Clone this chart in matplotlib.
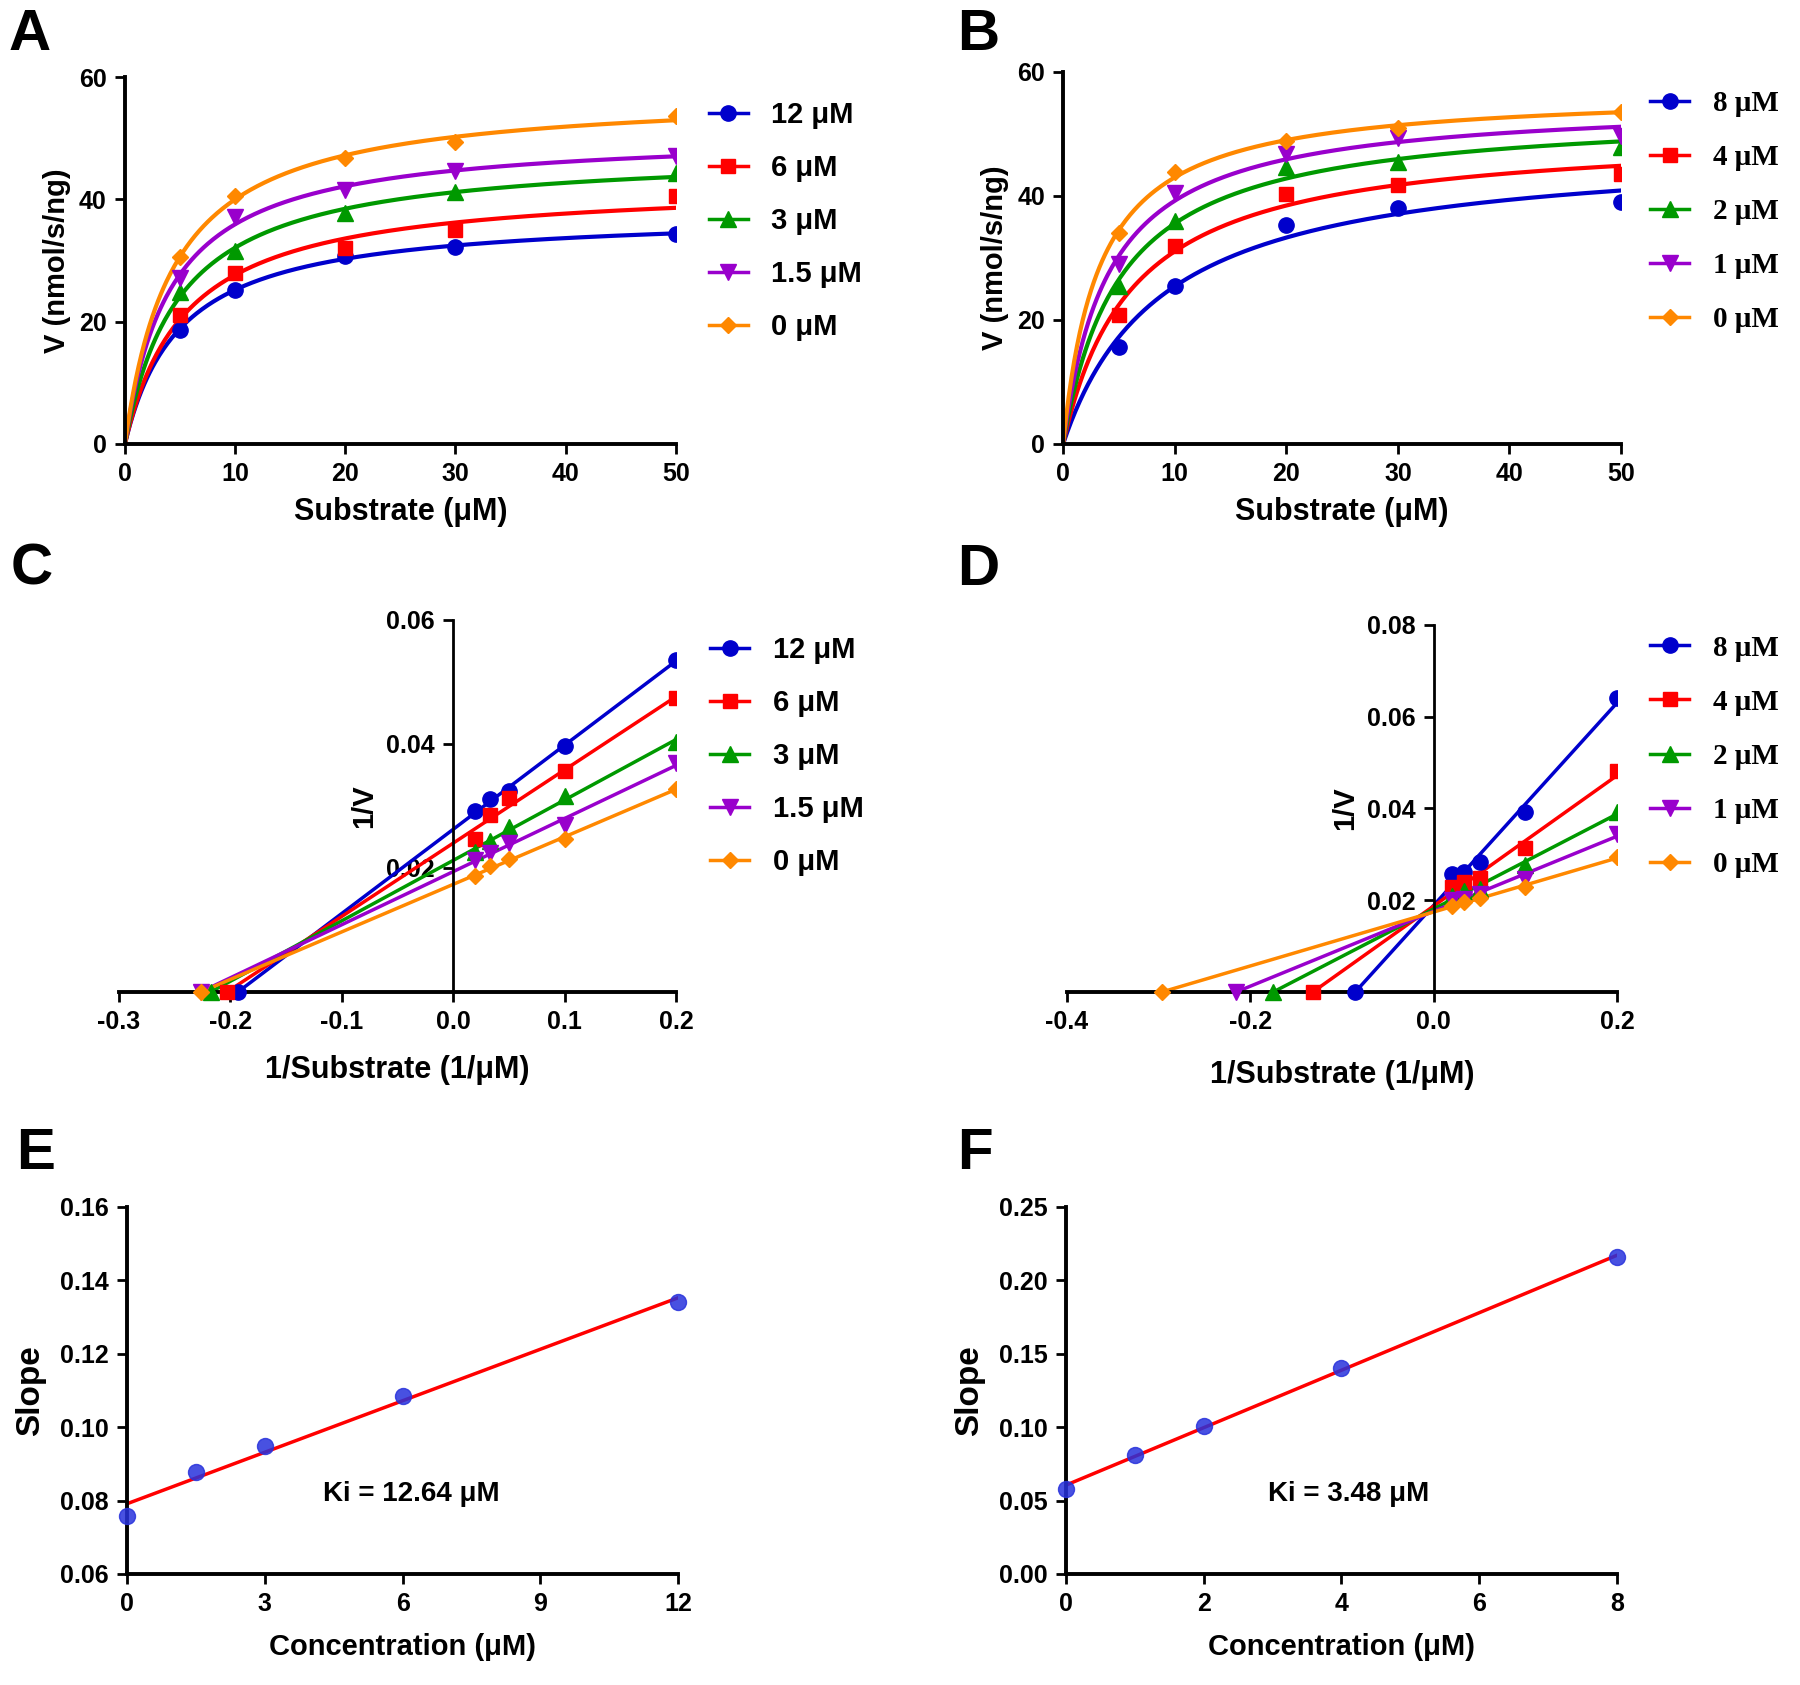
import numpy as np
import matplotlib
matplotlib.use("Agg")
import matplotlib.pyplot as plt
from matplotlib.lines import Line2D
from matplotlib.ticker import FormatStrFormatter

plt.rcParams['font.family'] = ['Liberation Sans', 'DejaVu Sans']
plt.rcParams['font.weight'] = 'bold'
plt.rcParams['axes.unicode_minus'] = False

# substrate concentrations (uM)
substrate = [5, 10, 20, 30, 50]

# panel A: velocities for each inhibitor level
labels_a = ['12 μM', '6 μM', '3 μM', '1.5 μM', '0 μM']
v_a_12 = [18.7, 25.2, 30.8, 32.2, 34.3]
v_a_6 = [21.1, 28.0, 32.0, 35.0, 40.5]
v_a_3 = [24.8, 31.6, 37.7, 41.2, 44.3]
v_a_15 = [27.1, 37.1, 41.5, 44.7, 47.1]
v_a_0 = [30.5, 40.6, 46.8, 49.4, 53.7]

# panel B
labels_b = ['8 μM', '4 μM', '2 μM', '1 μM', '0 μM']
v_b_8 = [15.6, 25.5, 35.3, 38.1, 39.0]
v_b_4 = [20.8, 31.9, 40.3, 41.8, 43.5]
v_b_2 = [25.5, 36.0, 44.7, 45.4, 47.9]
v_b_1 = [29.0, 40.5, 46.7, 49.3, 49.7]
v_b_0 = [34.0, 43.9, 48.9, 51.0, 53.6]

# panels E/F: slopes of the double reciprocal lines
conc_e = [0, 1.5, 3, 6, 12]
slope_e = [0.0759, 0.0877, 0.0948, 0.1085, 0.1340]
conc_f = [0, 1, 2, 4, 8]
slope_f = [0.0582, 0.0810, 0.1007, 0.1402, 0.2160]

colors = ['#0000CC', '#FF0000', '#009900', '#9900CC', '#FF8800']
markers = ['o', 's', '^', 'v', 'D']
msizes = [11, 10, 11, 11, 8]


def mm_fit(s, v):
    # least squares Michaelis-Menten fit, scanning Km
    s = np.asarray(s, float)
    v = np.asarray(v, float)
    best = None
    for km in np.linspace(0.2, 40, 4000):
        f = s / (km + s)
        vmax = (f @ v) / (f @ f)
        err = ((v - vmax * f) ** 2).sum()
        if best is None or err < best[0]:
            best = (err, vmax, km)
    return best[1], best[2]


def style_axes(ax, lw=2.8):
    ax.spines['top'].set_visible(False)
    ax.spines['right'].set_visible(False)
    ax.spines['left'].set_linewidth(lw)
    ax.spines['bottom'].set_linewidth(lw)
    ax.tick_params(direction='out', length=7, width=2, labelsize=18, pad=6)
    for lab in ax.get_xticklabels() + ax.get_yticklabels():
        lab.set_fontweight('bold')


def add_legend(ax, labels, x, y, family=None, spacing=0.86):
    handles = [Line2D([], [], color=c, marker=m, markersize=ms, lw=2.5)
               for c, m, ms in zip(colors, markers, msizes)]
    prop = {'size': 21, 'weight': 'bold'}
    if family:
        prop['family'] = family
    ax.legend(handles, labels, loc='upper left', bbox_to_anchor=(x, y),
              frameon=False, prop=prop, handlelength=1.35, handletextpad=0.8,
              labelspacing=spacing, borderpad=0, borderaxespad=0)


fig = plt.figure(figsize=(18, 16.85), dpi=100)

ax_a = fig.add_axes([0.0694, 0.7365, 0.306, 0.2178])
ax_b = fig.add_axes([0.5906, 0.7365, 0.310, 0.2208])
ax_c = fig.add_axes([0.0661, 0.4113, 0.3094, 0.2208])
ax_d = fig.add_axes([0.5928, 0.4113, 0.3056, 0.2178])
ax_e = fig.add_axes([0.0706, 0.0659, 0.3061, 0.2178])
ax_f = fig.add_axes([0.5922, 0.0659, 0.3061, 0.2178])

s_line = np.linspace(0, 50, 400)
inv_s = 1 / np.asarray(substrate, float)

for ax, series, labels, ymax, recip_ax, recip_xlim, recip_ymax, xstep, xpad in [
        (ax_a, [v_a_12, v_a_6, v_a_3, v_a_15, v_a_0], labels_a, 60,
         ax_c, (-0.3, 0.2), 0.06, 0.1, 15),
        (ax_b, [v_b_8, v_b_4, v_b_2, v_b_1, v_b_0], labels_b, 60,
         ax_d, (-0.4, 0.2), 0.08, 0.2, 19)]:
    for v, c, m, ms in zip(series, colors, markers, msizes):
        vmax, km = mm_fit(substrate, v)
        ax.plot(s_line, vmax * s_line / (km + s_line), color=c, lw=3)
        ax.plot(substrate, v, ls='none', marker=m, ms=ms, color=c, zorder=3)

        # double reciprocal
        inv_v = 1 / np.asarray(v, float)
        k, b = np.polyfit(inv_s, inv_v, 1)
        x0 = -b / k
        xx = np.array([x0, inv_s.max()])
        recip_ax.plot(xx, k * xx + b, color=c, lw=2.5)
        recip_ax.plot(inv_s, inv_v, ls='none', marker=m, ms=ms, color=c, zorder=3)
        recip_ax.plot([x0], [0], ls='none', marker=m, ms=ms, color=c,
                      zorder=4, clip_on=False)

    ax.set_xlim(0, 50)
    ax.set_ylim(0, ymax)
    ax.set_xticks([0, 10, 20, 30, 40, 50])
    ax.set_yticks([0, 20, 40, 60])
    style_axes(ax)
    ax.set_xlabel('Substrate (μM)', fontsize=22, fontweight='bold', labelpad=8)
    ax.set_ylabel('V (nmol/s/ng)', fontsize=21, fontweight='bold', labelpad=6)

    recip_ax.set_xlim(*recip_xlim)
    recip_ax.set_ylim(0, recip_ymax)
    recip_ax.spines['left'].set_position(('data', 0))
    recip_ax.set_xticks(np.round(np.arange(recip_xlim[0], 0.2001, xstep), 2))
    recip_ax.set_yticks(np.round(np.arange(0.02, recip_ymax + 0.0001, 0.02), 2))
    recip_ax.xaxis.set_major_formatter(FormatStrFormatter('%.1f'))
    recip_ax.yaxis.set_major_formatter(FormatStrFormatter('%.2f'))
    style_axes(recip_ax)
    recip_ax.spines['left'].set_linewidth(2)
    recip_ax.set_xlabel('1/Substrate (1/μM)', fontsize=22, fontweight='bold', labelpad=xpad)
    recip_ax.set_ylabel('1/V', fontsize=21, fontweight='bold', labelpad=6)

serif = ['Liberation Serif', 'DejaVu Serif']
add_legend(ax_a, labels_a, 1.06, 0.935)
add_legend(ax_b, labels_b, 1.052, 0.952, family=serif, spacing=0.93)
add_legend(ax_c, labels_a, 1.061, 0.957)
add_legend(ax_d, labels_b, 1.06, 0.974, family=serif, spacing=0.93)

# secondary plots
for ax, conc, slope, ylim, yticks, xticks, ki_text, ki_pos in [
        (ax_e, conc_e, slope_e, (0.06, 0.16), np.arange(0.06, 0.1601, 0.02),
         [0, 3, 6, 9, 12], 'Ki = 12.64 μM', (6.18, 0.0818)),
        (ax_f, conc_f, slope_f, (0, 0.25), np.arange(0, 0.2501, 0.05),
         [0, 2, 4, 6, 8], 'Ki = 3.48 μM', (4.11, 0.0545))]:
    k, b = np.polyfit(conc, slope, 1)
    xx = np.array([min(conc), max(conc)])
    ax.plot(xx, k * xx + b, color='#FF0000', lw=2.5, zorder=2)
    ax.plot(conc, slope, ls='none', marker='o', ms=11.5, color='#2832DC',
            alpha=0.85, zorder=3, clip_on=False)
    ax.set_xlim(xticks[0], xticks[-1])
    ax.set_ylim(*ylim)
    ax.set_xticks(xticks)
    ax.set_yticks(yticks)
    ax.yaxis.set_major_formatter(FormatStrFormatter('%.2f'))
    style_axes(ax)
    ax.set_xlabel('Concentration (μM)', fontsize=21, fontweight='bold', labelpad=12)
    ax.set_ylabel('Slope', fontsize=24, fontweight='bold', labelpad=10)
    ax.text(ki_pos[0], ki_pos[1], ki_text, fontsize=20, fontweight='bold',
            ha='center', va='center')

# panel letters
for letter, x, y in [('A', 0.005, 0.995), ('B', 0.532, 0.995),
                     ('C', 0.006, 0.678), ('D', 0.532, 0.678),
                     ('E', 0.009, 0.331), ('F', 0.532, 0.331)]:
    fig.text(x, y, letter, fontsize=42, fontweight='bold', ha='left', va='top')

fig.savefig('out.png', dpi=100)
